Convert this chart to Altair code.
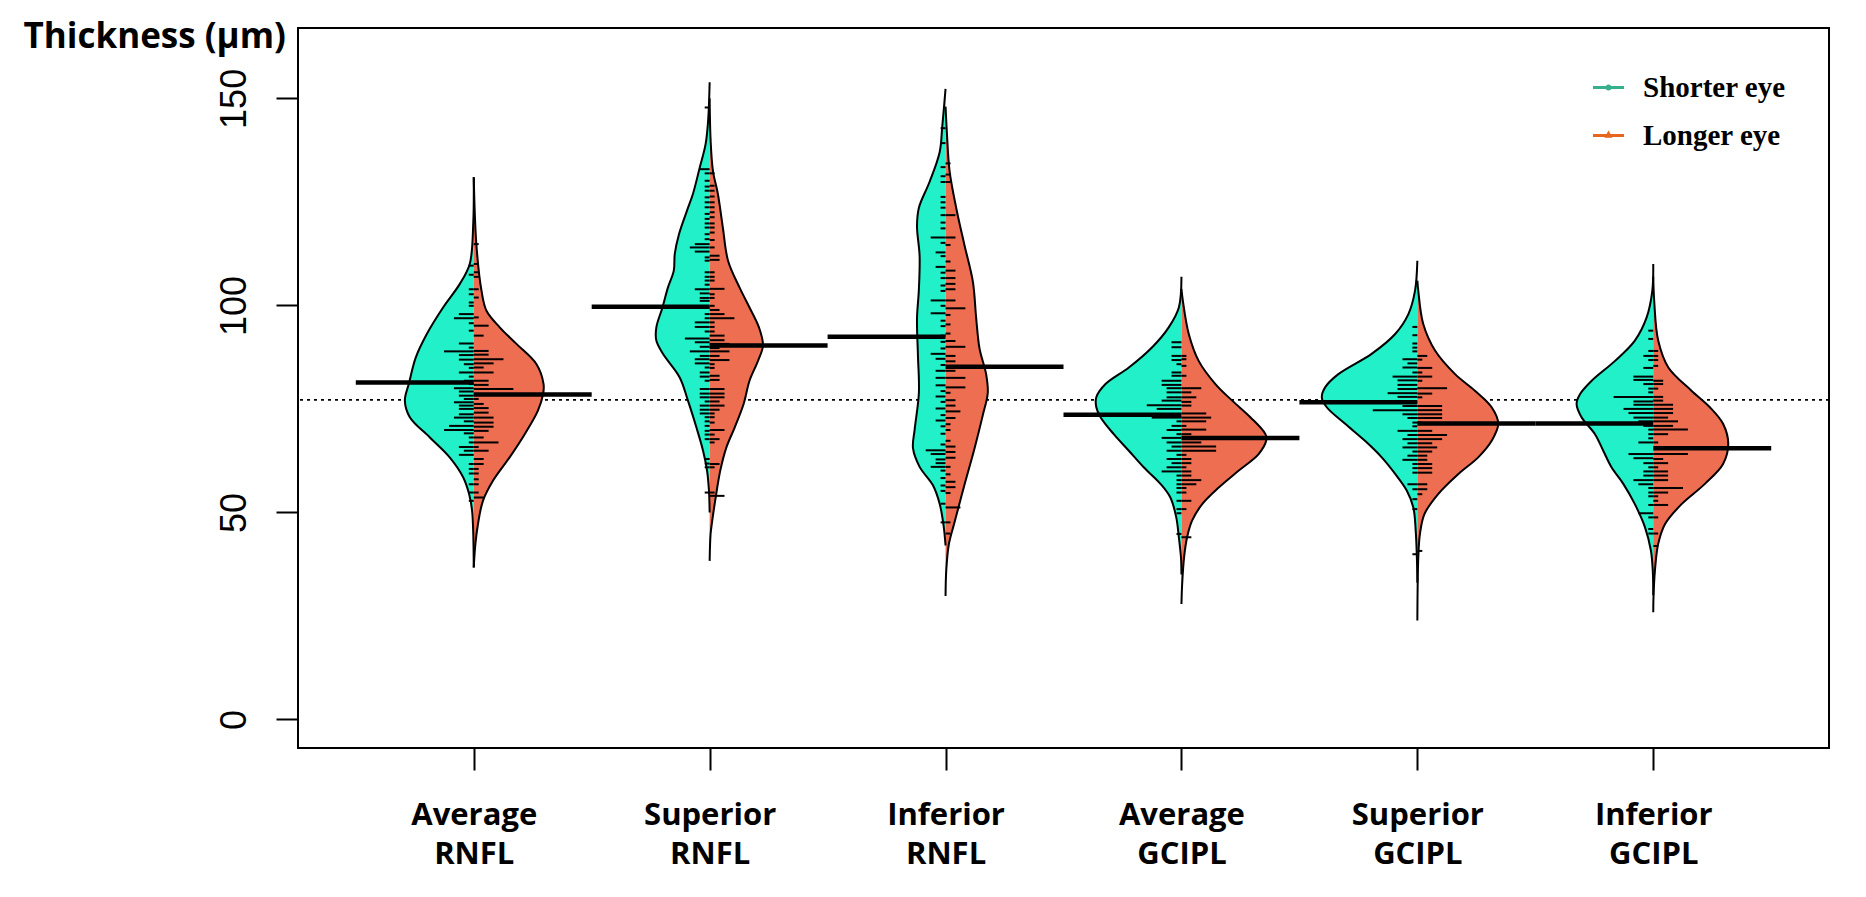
import altair as alt
import pandas as pd

# ---------------- data ----------------
CATEGORIES = ["Average RNFL", "Superior RNFL", "Inferior RNFL",
              "Average GCIPL", "Superior GCIPL", "Inferior GCIPL"]
POSITIONS = [1, 2, 3, 4, 5, 6]
SIDES = ["Shorter eye", "Longer eye"]
Y_TICKS = [0, 50, 100, 150]

MEAN_SHORT = [81.4, 99.7, 92.4, 73.6, 76.6, 71.5]
MEAN_LONG = [78.5, 90.3, 85.2, 68.0, 71.5, 65.5]
OVERALL_MEAN = [77.2]

# bean outlines: thickness level (um) and half-width (fraction of category spacing)
AR_S_Y = [130.9, 120, 110, 105.2, 99.5, 93.1, 87.4, 81.3, 77.0, 73.0, 68.1, 63.3, 58.5, 54.5, 50.4, 36.7]
AR_S_W = [0, 0.002, 0.017, 0.059, 0.130, 0.199, 0.246, 0.274, 0.292, 0.271, 0.186, 0.102, 0.045, 0.020, 0.007, 0]
AR_L_Y = [131.0, 114.8, 103.5, 98.7, 94.7, 90.7, 85.8, 81.0, 78.6, 74.6, 68.9, 63.3, 57.7, 52.8, 47.2, 42.4, 36.7]
AR_L_W = [0, 0.011, 0.033, 0.054, 0.110, 0.181, 0.266, 0.296, 0.294, 0.272, 0.216, 0.152, 0.082, 0.039, 0.018, 0.007, 0]

SR_S_Y = [153.9, 145, 139, 133.3, 126.9, 122.9, 117.2, 112.4, 108.4, 104.3, 99.5, 94.7, 91.5, 88.3, 82.6, 77.0, 70.5, 64.9, 60.1, 55.3, 50.0]
SR_S_W = [0, 0.006, 0.017, 0.042, 0.071, 0.096, 0.130, 0.148, 0.152, 0.177, 0.200, 0.226, 0.226, 0.198, 0.127, 0.092, 0.056, 0.028, 0.011, 0.003, 0]
SR_L_Y = [150, 140, 132.5, 126.9, 118.8, 110.8, 104.3, 99.5, 94.7, 90.3, 86.6, 81.8, 76.2, 70.5, 65.7, 60.1, 54.5, 48.0, 44.8, 38.3]
SR_L_W = [0, 0.004, 0.014, 0.035, 0.056, 0.078, 0.127, 0.169, 0.209, 0.226, 0.205, 0.169, 0.144, 0.106, 0.071, 0.045, 0.028, 0.011, 0.004, 0]

IR_S_Y = [152.3, 143.2, 137, 129.8, 123.6, 119.1, 112, 103.9, 96.8, 87.8, 78.9, 70, 65.5, 61, 56.6, 52.1, 46.7, 42.0]
IR_S_W = [0, 0.014, 0.025, 0.068, 0.113, 0.121, 0.110, 0.113, 0.121, 0.117, 0.113, 0.131, 0.138, 0.110, 0.054, 0.025, 0.008, 0]
IR_L_Y = [148, 141.4, 132.5, 123.6, 114.6, 105.7, 96.8, 89.6, 83.4, 78.9, 73.5, 65.5, 56.6, 47.6, 42.3, 36, 29.8]
IR_L_W = [0, 0.006, 0.017, 0.045, 0.080, 0.116, 0.130, 0.144, 0.172, 0.179, 0.158, 0.123, 0.080, 0.038, 0.014, 0.003, 0]

AG_S_Y = [106.9, 99.5, 94.7, 89.9, 85, 81, 77.8, 75.4, 73, 68.9, 64.9, 60.9, 56.9, 53.6, 48.8, 44, 39.1, 35]
AG_S_W = [0, 0.011, 0.054, 0.124, 0.223, 0.322, 0.361, 0.361, 0.343, 0.287, 0.223, 0.160, 0.089, 0.047, 0.022, 0.011, 0.002, 0]
AG_L_Y = [104, 101.1, 93.1, 86.6, 81, 77, 73, 68.9, 67.3, 64.1, 60.1, 56, 52, 48, 44, 39.1, 32.7, 27.9]
AG_L_W = [0, 0.006, 0.031, 0.073, 0.144, 0.215, 0.292, 0.356, 0.359, 0.327, 0.243, 0.158, 0.088, 0.045, 0.024, 0.011, 0.003, 0]

SG_S_Y = [110.8, 103.5, 97.9, 93.1, 88.3, 83.4, 80.2, 77.8, 75.4, 71.4, 67.3, 63.3, 59.3, 55.3, 51.2, 45.6, 39.1, 33]
SG_S_W = [0, 0.010, 0.038, 0.094, 0.194, 0.335, 0.391, 0.405, 0.384, 0.306, 0.222, 0.151, 0.094, 0.045, 0.017, 0.007, 0.002, 0]
SG_L_Y = [106, 103.5, 95.5, 89.1, 83.4, 79.4, 75.4, 71.4, 67.3, 63.3, 59.3, 54.5, 49.6, 44.8, 39.1, 23.9]
SG_L_W = [0, 0.004, 0.025, 0.075, 0.160, 0.244, 0.315, 0.343, 0.315, 0.258, 0.174, 0.089, 0.030, 0.011, 0.004, 0]

IG_S_Y = [110, 103.5, 97.1, 91.5, 86.6, 81.8, 78.6, 76.2, 73, 68.9, 64.9, 60.9, 56.9, 52, 46.4, 40.8, 35.9, 30]
IG_S_W = [0, 0.004, 0.028, 0.078, 0.162, 0.261, 0.310, 0.325, 0.304, 0.247, 0.212, 0.177, 0.127, 0.078, 0.035, 0.010, 0.002, 0]
IG_L_Y = [107, 101.1, 91.5, 85, 79.4, 75.4, 71.4, 66.5, 61.7, 56.9, 52, 47.2, 42.4, 35.9, 29.5, 25.9]
IG_L_W = [0, 0.004, 0.021, 0.064, 0.162, 0.240, 0.296, 0.318, 0.296, 0.219, 0.120, 0.050, 0.021, 0.007, 0.001, 0]

# individual observations (bean lines): value and number of coinciding observations
AR_S_T = [109.6, 107.4, 103.9, 102.7, 100.7, 99.9, 97.9, 96.9, 95.7, 93.9, 90.8, 89.8, 88.9, 88.0, 86.9, 85.8, 84.9, 83.8, 82.8, 81.8, 81.0, 80.0, 79.2, 78.2, 77.4, 76.6, 75.8, 75.0, 73.7, 72.9, 72.0, 70.9, 69.9, 69.1, 68.1, 66.9, 65.8, 64.9, 63.9, 61.7, 60.5, 59.4, 56.8, 54.8, 52.8]
AR_S_N = [1, 1, 1, 1, 1, 1, 3, 4, 1, 1, 3, 1, 6, 3, 3, 2, 1, 3, 1, 2, 1, 4, 3, 3, 2, 4, 3, 3, 3, 4, 2, 5, 6, 2, 1, 1, 3, 2, 3, 1, 1, 1, 1, 1, 1]
AR_L_T = [114.8, 110, 108, 106.9, 103.9, 101.9, 97.1, 95.1, 92.7, 89.0, 88.1, 87.0, 86.0, 85.0, 83.8, 81.8, 80.8, 79.8, 78.6, 77.4, 76.2, 75.2, 74.1, 72.9, 71.7, 70.7, 69.7, 68.1, 66.9, 65.8, 64.9, 62.9, 61.7, 60.5, 59.4, 58.0, 56.8, 54.8, 53.6]
AR_L_N = [1, 1, 1, 1, 1, 1, 1, 3, 2, 3, 3, 6, 4, 2, 4, 3, 3, 8, 4, 1, 2, 3, 3, 4, 4, 4, 3, 2, 5, 1, 3, 2, 2, 1, 1, 1, 1, 1, 2]

SR_S_T = [147.8, 132.9, 131.9, 130.1, 128.7, 127.7, 126.1, 124.9, 123.7, 122.1, 120.9, 119.8, 118.8, 117.2, 116.0, 114.8, 114.0, 113.0, 111.6, 110.8, 108.0, 106.9, 106.0, 105.0, 103.9, 102.9, 101.8, 101.1, 99.5, 97.9, 96.9, 95.9, 94.8, 93.7, 92.0, 91.1, 90.0, 88.9, 87.8, 87.0, 86.0, 85.0, 83.8, 82.8, 81.8, 79.8, 78.7, 77.8, 76.8, 75.8, 74.8, 73.9, 73.0, 72.0, 70.9, 69.7, 68.8, 67.7, 62.9, 61.8, 60.9, 54.8]
SR_S_N = [1, 2, 1, 1, 1, 1, 1, 1, 1, 1, 1, 1, 1, 1, 1, 3, 4, 3, 1, 1, 1, 1, 1, 1, 3, 2, 2, 2, 2, 1, 1, 3, 3, 1, 5, 3, 2, 4, 2, 3, 3, 1, 2, 2, 1, 2, 2, 2, 1, 2, 2, 2, 1, 1, 1, 1, 1, 1, 1, 1, 1, 1]
SR_L_T = [131.9, 128.9, 127.7, 126.3, 124.9, 123.7, 122.5, 121.3, 119.8, 118.8, 117.6, 115.8, 114.0, 112.0, 111.0, 108.0, 106.9, 106.0, 104.0, 102.7, 101.8, 99.9, 98.9, 97.9, 96.9, 95.9, 94.8, 93.7, 92.7, 91.6, 90.7, 89.7, 88.9, 87.8, 86.8, 85.8, 84.9, 83.0, 82.0, 79.8, 78.7, 77.8, 76.8, 75.8, 74.8, 73.9, 73.0, 71.7, 69.9, 68.8, 67.7, 66.9, 61.7, 60.9, 54.8, 54.0]
SR_L_N = [1, 1, 1, 1, 1, 1, 1, 1, 1, 1, 1, 1, 1, 2, 2, 1, 1, 1, 3, 1, 1, 1, 2, 3, 5, 1, 1, 1, 3, 3, 4, 2, 4, 2, 4, 1, 1, 2, 2, 3, 3, 3, 2, 3, 2, 1, 1, 1, 3, 1, 2, 1, 2, 1, 1, 3]

IR_S_T = [142.8, 139.2, 133.4, 131.2, 129.8, 126.2, 124.9, 123.6, 121.8, 120.0, 118.6, 116.4, 115.1, 112.8, 111.9, 109.3, 107.9, 106.6, 104.8, 103.5, 101.2, 99.9, 98.1, 96.3, 95.0, 92.7, 91.2, 89.6, 88.3, 87.1, 85.6, 84.2, 82.5, 80.7, 79.3, 78.0, 76.7, 75.1, 73.5, 72.2, 70.8, 69.0, 66.4, 65.0, 64.1, 62.8, 61.9, 61.0, 60.1, 58.3, 56.5, 55.2, 52.1, 47.6]
IR_S_N = [1, 1, 1, 1, 1, 1, 1, 1, 1, 1, 1, 3, 1, 2, 1, 2, 1, 1, 1, 1, 3, 1, 3, 1, 1, 1, 1, 1, 3, 2, 1, 2, 2, 2, 1, 2, 1, 2, 1, 2, 1, 1, 1, 4, 3, 2, 2, 3, 1, 1, 1, 1, 1, 1]
IR_L_T = [134.3, 131.6, 129.8, 121.8, 116.4, 114.6, 110.6, 108.4, 106.6, 105.2, 103.9, 101.2, 99.3, 97.7, 95.4, 93.2, 91.4, 90.0, 87.8, 86.5, 84.2, 82.5, 80.2, 78.9, 77.1, 75.8, 74.4, 72.8, 71.3, 69.9, 67.3, 65.9, 64.6, 63.2, 61.0, 59.2, 57.4, 56.1, 54.7, 51.2, 47.6, 44.9]
IR_L_N = [1, 1, 1, 2, 2, 1, 1, 2, 2, 2, 2, 2, 4, 1, 1, 1, 2, 4, 2, 2, 2, 4, 4, 1, 2, 2, 3, 2, 1, 1, 1, 2, 2, 2, 1, 1, 2, 2, 1, 3, 1, 1]

AG_S_T = [91.1, 89.9, 87.8, 86.8, 85.8, 83.8, 83.0, 81.8, 80.8, 80.0, 79.0, 77.8, 77.0, 75.9, 75.0, 72.9, 72.0, 70.9, 69.9, 68.9, 68.0, 66.9, 65.9, 64.9, 63.9, 62.9, 61.9, 60.9, 59.9, 58.9, 57.8, 56.8, 55.9, 54.8, 52.8, 50.8, 49.8, 44.8]
AG_S_N = [2, 2, 2, 2, 1, 2, 2, 4, 4, 3, 3, 3, 4, 7, 5, 6, 1, 2, 3, 1, 4, 3, 2, 3, 1, 3, 2, 3, 4, 1, 1, 1, 1, 1, 1, 1, 1, 1]
AG_L_T = [87.8, 87.0, 85.4, 83.0, 80.0, 79.0, 77.8, 76.7, 75.8, 73.9, 72.9, 72.0, 70.9, 70.0, 68.9, 66.9, 65.9, 64.9, 63.9, 62.9, 61.9, 60.9, 59.9, 58.9, 57.8, 56.8, 55.9, 54.8, 52.8, 50.8, 44.0]
AG_L_N = [1, 1, 1, 1, 4, 2, 3, 2, 2, 5, 6, 5, 1, 5, 2, 4, 7, 7, 1, 2, 2, 1, 2, 2, 4, 3, 1, 1, 2, 1, 2]

SG_S_T = [94.8, 92.8, 90.8, 89.8, 88.9, 87.0, 86.0, 85.0, 83.8, 82.8, 81.9, 80.8, 79.8, 78.8, 77.9, 76.7, 75.7, 74.7, 73.7, 72.8, 71.7, 70.8, 69.7, 68.7, 67.7, 66.7, 65.7, 64.7, 63.7, 62.7, 61.7, 60.7, 59.6, 56.8, 55.6, 53.2, 50.8, 39.9]
SG_S_N = [1, 1, 1, 1, 1, 3, 2, 3, 1, 5, 4, 4, 4, 6, 4, 6, 3, 9, 3, 2, 1, 1, 4, 2, 3, 2, 3, 1, 2, 3, 1, 1, 1, 2, 1, 1, 1, 1]
SG_L_T = [87.8, 86.9, 84.9, 83.8, 82.8, 81.8, 80.0, 78.7, 77.8, 75.7, 74.7, 73.7, 72.8, 71.7, 69.7, 68.7, 67.7, 66.7, 65.7, 64.7, 63.7, 62.7, 61.7, 60.7, 59.6, 56.8, 55.6, 54.4, 40.7]
SG_L_N = [2, 1, 3, 1, 3, 1, 6, 3, 1, 5, 5, 5, 5, 1, 3, 6, 5, 3, 4, 3, 2, 2, 3, 3, 3, 2, 2, 1, 1]

IG_S_T = [93.9, 91.9, 89.0, 87.8, 86.8, 84.9, 82.8, 82.0, 81.0, 79.9, 79.0, 77.9, 76.8, 76.0, 75.0, 74.0, 72.9, 72.0, 70.9, 70.0, 68.9, 67.9, 66.9, 64.1, 63.1, 61.9, 60.9, 59.9, 58.9, 57.8, 56.8, 55.9, 54.8, 53.9, 51.8, 49.8, 48.8, 46.0, 44.9]
IG_S_N = [1, 1, 1, 2, 1, 2, 4, 4, 2, 1, 1, 8, 4, 4, 6, 5, 4, 3, 2, 1, 1, 1, 3, 5, 4, 2, 1, 2, 2, 4, 3, 1, 1, 1, 1, 3, 1, 1, 1]
IG_L_T = [89.0, 87.8, 86.8, 85.4, 81.8, 81.0, 79.9, 77.9, 77.0, 76.0, 75.0, 74.0, 72.9, 72.0, 70.9, 70.0, 68.9, 66.9, 64.1, 62.9, 61.9, 60.9, 59.9, 58.9, 57.8, 55.9, 54.8, 53.9, 52.8, 51.8, 48.8, 44.9, 41.9]
IG_L_N = [1, 1, 1, 1, 2, 2, 1, 2, 2, 4, 4, 4, 3, 5, 4, 7, 3, 1, 7, 2, 3, 1, 3, 3, 3, 6, 3, 1, 1, 3, 1, 1, 1]

HALVES = [
    (1, "Shorter eye", AR_S_Y, AR_S_W, AR_S_T, AR_S_N),
    (1, "Longer eye", AR_L_Y, AR_L_W, AR_L_T, AR_L_N),
    (2, "Shorter eye", SR_S_Y, SR_S_W, SR_S_T, SR_S_N),
    (2, "Longer eye", SR_L_Y, SR_L_W, SR_L_T, SR_L_N),
    (3, "Shorter eye", IR_S_Y, IR_S_W, IR_S_T, IR_S_N),
    (3, "Longer eye", IR_L_Y, IR_L_W, IR_L_T, IR_L_N),
    (4, "Shorter eye", AG_S_Y, AG_S_W, AG_S_T, AG_S_N),
    (4, "Longer eye", AG_L_Y, AG_L_W, AG_L_T, AG_L_N),
    (5, "Shorter eye", SG_S_Y, SG_S_W, SG_S_T, SG_S_N),
    (5, "Longer eye", SG_L_Y, SG_L_W, SG_L_T, SG_L_N),
    (6, "Shorter eye", IG_S_Y, IG_S_W, IG_S_T, IG_S_N),
    (6, "Longer eye", IG_L_Y, IG_L_W, IG_L_T, IG_L_N),
]

# ---------------- tables ----------------
outline_rows, tick_rows = [], []
for pos, side, oy, ow, tv, tn in HALVES:
    for v, w in zip(oy, ow):
        outline_rows.append({"pos": pos, "side": side, "grp": f"{pos}-{side}", "value": v, "w": w})
    for v, n in zip(tv, tn):
        tick_rows.append({"pos": pos, "side": side, "value": v, "n": n})
outline_df = pd.DataFrame(outline_rows)
tick_df = pd.DataFrame(tick_rows)
mean_df = pd.DataFrame(
    [{"pos": p, "side": "Shorter eye", "mean": m} for p, m in zip(POSITIONS, MEAN_SHORT)]
    + [{"pos": p, "side": "Longer eye", "mean": m} for p, m in zip(POSITIONS, MEAN_LONG)]
)
overall_df = pd.DataFrame({"overall": OVERALL_MEAN})

# ---------------- styling ----------------
FILL_COLORS = ["#22F0C8", "#EE6E52"]
LEGEND_COLORS = ["#35B08C", "#E5661C"]
PATH_DOT = "M-1,-0.1H1V0.1H-1Z M0.2,0A0.2,0.2,0,1,1,-0.2,0A0.2,0.2,0,1,1,0.2,0Z"
PATH_TRI = "M-1,-0.1H1V0.1H-1Z M-0.26,0.14L0,-0.32L0.26,0.14Z"

XS = alt.Scale(domain=[0.255, 6.745], nice=False, zero=False)
YS = alt.Scale(domain=[-6.9, 167.0], nice=False, zero=False)
SIGN = "datum.side == 'Shorter eye' ? -1 : 1"
TICK_UNIT = 0.021
MEAN_HALF = 0.5

label_expr = "[" + ",".join(
    "[" + ",".join("'" + p + "'" for p in c.split(" ")) + "]" for c in CATEGORIES
) + "][datum.value - 1]"

X_AXIS = alt.Axis(values=POSITIONS, labelExpr=label_expr, title=None, grid=False, domain=False,
                  labelFont="Open Sans", labelFontWeight="bold", labelFontSize=31,
                  labelLineHeight=39, labelPadding=30, labelBaseline="top", labelAlign="center",
                  labelAngle=0, labelFlush=False, labelOverlap=False, labelColor="black",
                  tickSize=22, tickWidth=2, tickColor="black")
Y_AXIS = alt.Axis(values=Y_TICKS, title="Thickness (μm)", grid=False, domain=False,
                  titleAngle=0, titleX=-275, titleY=19, titleAlign="left",
                  titleBaseline="alphabetic", titleFont="Open Sans", titleFontWeight="bold",
                  titleFontSize=35, titleColor="black",
                  labelAngle=270, labelAlign="center", labelBaseline="bottom", labelPadding=23,
                  labelFont="Liberation Sans", labelFontSize=36, labelColor="black",
                  labelOverlap=False, labelFlush=False,
                  tickSize=22, tickWidth=2, tickColor="black")


def xenc(field):
    return alt.X(field, scale=XS, axis=X_AXIS, stack=None)


def yenc(field):
    return alt.Y(field, scale=YS, axis=Y_AXIS, stack=None)


base_outline = alt.Chart(outline_df).transform_calculate(
    xo=f"datum.pos + ({SIGN}) * datum.w",
    xc="datum.pos",
)

dotted = alt.Chart(overall_df).mark_rule(color="black", strokeWidth=1.8, strokeDash=[3, 4]).encode(
    y=yenc("overall:Q")
)

fill_layers = []
for side, col in zip(SIDES, FILL_COLORS):
    fill_layers.append(
        base_outline.transform_filter(alt.datum.side == side)
        .mark_area(orient="horizontal", interpolate="catmull-rom", color=col, opacity=1)
        .encode(
            y=yenc("value:Q"),
            x=xenc("xo:Q"),
            x2=alt.X2("xc:Q"),
            detail="grp:N",
        )
    )

outlines = base_outline.mark_line(interpolate="catmull-rom", color="black", strokeWidth=2).encode(
    y=yenc("value:Q"),
    x=xenc("xo:Q"),
    detail="grp:N",
    order="value:Q",
)

ticks = alt.Chart(tick_df).transform_calculate(
    xt=f"datum.pos + ({SIGN}) * datum.n * {TICK_UNIT}"
).mark_rule(color="black", strokeWidth=2).encode(
    y=yenc("value:Q"),
    x=xenc("pos:Q"),
    x2="xt:Q",
)

means = alt.Chart(mean_df).transform_calculate(
    xm=f"datum.pos + ({SIGN}) * {MEAN_HALF}"
).mark_rule(color="black", strokeWidth=4.5).encode(
    y=yenc("mean:Q"),
    x=xenc("pos:Q"),
    x2="xm:Q",
)

legend_cfg = dict(title=None, orient="none", legendX=1295, legendY=44, padding=0,
                  labelFont="Liberation Serif", labelFontWeight="bold", labelFontSize=29,
                  labelColor="black", labelOffset=19, rowPadding=17, symbolSize=961,
                  symbolStrokeWidth=0, symbolOpacity=1)
legend_layer = alt.Chart(mean_df).transform_filter("false").mark_point(filled=True, opacity=1).encode(
    color=alt.Color("side:N", scale=alt.Scale(domain=SIDES, range=LEGEND_COLORS),
                    legend=alt.Legend(**legend_cfg)),
    shape=alt.Shape("side:N", scale=alt.Scale(domain=SIDES, range=[PATH_DOT, PATH_TRI]),
                    legend=alt.Legend(**legend_cfg)),
)

chart = alt.layer(dotted, *fill_layers, outlines, ticks, means, legend_layer).properties(
    width=1531, height=720,
    autosize=alt.AutoSizeParams(type="none"),
    padding={"left": 290, "top": 20, "right": 20, "bottom": 140},
    background="white",
).configure_view(stroke="black", strokeWidth=2)

chart.save("out.html", embed_options={"renderer": "svg", "actions": False})
